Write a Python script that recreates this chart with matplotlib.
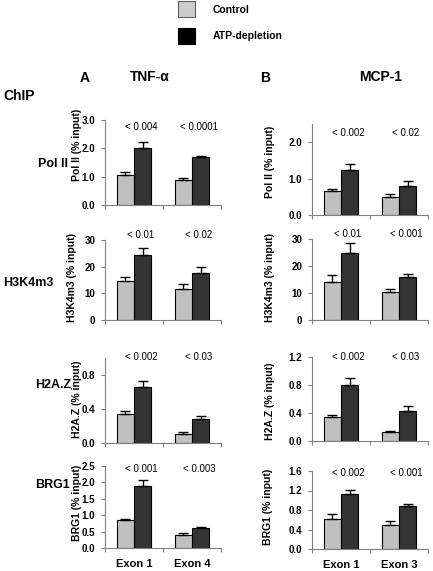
import matplotlib.pyplot as plt
import matplotlib.transforms as mtransforms
import numpy as np

# -----------------------------
# DATA
# -----------------------------
genes = ["TNF-\u03b1", "MCP-1"]
exons = [["Exon 1", "Exon 4"], ["Exon 1", "Exon 3"]]
marks = ["Pol II", "H3K4m3", "H2A.Z", "BRG1"]

# control / ATP-depletion means and upper error, per mark, per gene
ctrl = {
    "Pol II": [[1.05, 0.87], [0.66, 0.50]],
    "H3K4m3": [[14.6, 11.6], [14.0, 10.2]],
    "H2A.Z": [[0.34, 0.105], [0.345, 0.128]],
    "BRG1": [[0.85, 0.41], [0.62, 0.495]],
}
ctrl_err = {
    "Pol II": [[0.12, 0.07], [0.06, 0.09]],
    "H3K4m3": [[1.4, 1.8], [2.6, 1.2]],
    "H2A.Z": [[0.035, 0.025], [0.025, 0.01]],
    "BRG1": [[0.03, 0.05], [0.09, 0.085]],
}
atp = {
    "Pol II": [[2.0, 1.68], [1.25, 0.80]],
    "H3K4m3": [[24.4, 17.5], [25.0, 16.0]],
    "H2A.Z": [[0.66, 0.28], [0.80, 0.426]],
    "BRG1": [[1.89, 0.61], [1.13, 0.88]],
}
atp_err = {
    "Pol II": [[0.24, 0.06], [0.14, 0.13]],
    "H3K4m3": [[2.5, 2.2], [3.5, 1.0]],
    "H2A.Z": [[0.07, 0.04], [0.10, 0.075]],
    "BRG1": [[0.18, 0.04], [0.09, 0.035]],
}
pvals = {
    "Pol II": [["< 0.004", "< 0.0001"], ["< 0.002", "< 0.02"]],
    "H3K4m3": [["< 0.01", "< 0.02"], ["< 0.01", "< 0.001"]],
    "H2A.Z": [["< 0.002", "< 0.03"], ["< 0.002", "< 0.03"]],
    "BRG1": [["< 0.001", "< 0.003"], ["< 0.002", "< 0.001"]],
}
ylims = {
    "Pol II": [3.0, 2.5], "H3K4m3": [30, 30],
    "H2A.Z": [1.0, 1.2], "BRG1": [2.5, 1.6],
}
yticks = {
    "Pol II": [[0, 1, 2, 3], [0, 1, 2]],
    "H3K4m3": [[0, 10, 20, 30], [0, 10, 20, 30]],
    "H2A.Z": [[0, 0.4, 0.8], [0, 0.4, 0.8, 1.2]],
    "BRG1": [[0, 0.5, 1.0, 1.5, 2.0, 2.5], [0, 0.4, 0.8, 1.2, 1.6]],
}
tick_fmt = {"Pol II": "{:.1f}", "H3K4m3": "{:.0f}", "H2A.Z": "{:.1f}", "BRG1": "{:.1f}"}

# -----------------------------
# LAYOUT (pixels)
# -----------------------------
W, H = 433, 571
plt.rcParams['font.family'] = ['Liberation Sans', 'DejaVu Sans']
fig = plt.figure(figsize=(W / 100, H / 100), dpi=100)

col_x = [(105, 221), (312, 428)]
row_y = [
    [(120, 205), (124, 215)],
    [(240, 320), (239, 320)],
    [(358, 443), (357, 441)],
    [(466, 548), (471, 549)],
]
ylab_pos = [
    [(77, 145), (270, 162)],
    [(72, 277), (270, 277)],
    [(77, 399), (270, 401)],
    [(77, 503), (268, 507)],
]
pval_y = [(127, 133), (235, 234), (357, 357), (469, 473)]
row_lab = [(38, 164), (3, 283), (35, 385), (35, 485)]

C_CTRL = '#c0c0c0'
C_ATP = '#333333'
AX_COL = '#808080'

def fx(px):
    return px / W

def fy(py):
    return 1 - py / H

x = np.arange(2)
bw = 0.3

for r, mark in enumerate(marks):
    fig.text(fx(row_lab[r][0]), fy(row_lab[r][1]), mark, fontsize=9,
             fontweight='bold', ha='left', va='center')
    for c in range(2):
        x0, x1 = col_x[c]
        t, b = row_y[r][c]
        ax = fig.add_axes([fx(x0), fy(b), fx(x1) - fx(x0), (b - t) / H])
        cerr = [np.zeros(2), ctrl_err[mark][c]]
        aerr = [np.zeros(2), atp_err[mark][c]]
        ax.bar(x - bw / 2, ctrl[mark][c], bw, color=C_CTRL, edgecolor='black',
               linewidth=0.8, yerr=cerr, capsize=3.5,
               error_kw=dict(elinewidth=1, capthick=1, ecolor='black'))
        ax.bar(x + bw / 2, atp[mark][c], bw, color=C_ATP, edgecolor='black',
               linewidth=0.8, yerr=aerr, capsize=3.5,
               error_kw=dict(elinewidth=1, capthick=1, ecolor='black'))
        ax.set_xlim(-0.5, 1.5)
        ax.set_ylim(0, ylims[mark][c])
        ax.set_yticks(yticks[mark][c])
        ax.set_yticklabels([tick_fmt[mark].format(v) for v in yticks[mark][c]],
                           fontsize=7, fontweight='bold')
        ax.set_xticks([-0.5, 0.5, 1.5], minor=True)
        ax.tick_params(axis='x', which='minor', length=3, color=AX_COL, width=0.8)
        ax.set_xticks(x)
        if r == len(marks) - 1:
            ax.set_xticklabels(exons[c], fontsize=8, fontweight='bold')
            ax.tick_params(axis='x', which='major', length=0, pad=8)
        else:
            ax.set_xticklabels([])
            ax.tick_params(axis='x', which='major', length=0)
        ax.tick_params(axis='y', length=3, color=AX_COL, width=0.8, pad=4)
        for s in ['top', 'right']:
            ax.spines[s].set_visible(False)
        for s in ['left', 'bottom']:
            ax.spines[s].set_color(AX_COL)
            ax.spines[s].set_linewidth(0.8)
        trans = mtransforms.blended_transform_factory(ax.transData, fig.transFigure)
        for i in range(2):
            ax.text(x[i] + 0.12, fy(pval_y[r][c]), pvals[mark][c][i], fontsize=7,
                    ha='center', va='center', transform=trans, clip_on=False)
        lx, ly = ylab_pos[r][c]
        fig.text(fx(lx), fy(ly), f"{mark} (% input)", rotation=90, fontsize=7.5,
                 fontweight='bold', ha='center', va='center')

# headers
fig.text(fx(3), fy(96), "ChIP", fontsize=10, fontweight='bold', ha='left', va='center')
fig.text(fx(85), fy(78), "A", fontsize=10, fontweight='bold', ha='center', va='center')
fig.text(fx(150), fy(77), genes[0], fontsize=10, fontweight='bold', ha='center', va='center')
fig.text(fx(265), fy(78), "B", fontsize=10, fontweight='bold', ha='center', va='center')
fig.text(fx(381), fy(77), genes[1], fontsize=10, fontweight='bold', ha='center', va='center')

# legend
fig.patches.append(plt.Rectangle((fx(178), fy(17)), fx(17), 16 / H, transform=fig.transFigure,
                                 facecolor='#cccccc', edgecolor='#606060', linewidth=0.8))
fig.patches.append(plt.Rectangle((fx(178), fy(44)), fx(17), 16 / H, transform=fig.transFigure,
                                 facecolor='black', edgecolor='black', linewidth=0.8))
fig.text(fx(213), fy(10), "Control", fontsize=7.5, fontweight='bold', ha='left', va='center')
fig.text(fx(213), fy(36), "ATP-depletion", fontsize=7.5, fontweight='bold', ha='left', va='center')

fig.savefig("out.png", dpi=100)
